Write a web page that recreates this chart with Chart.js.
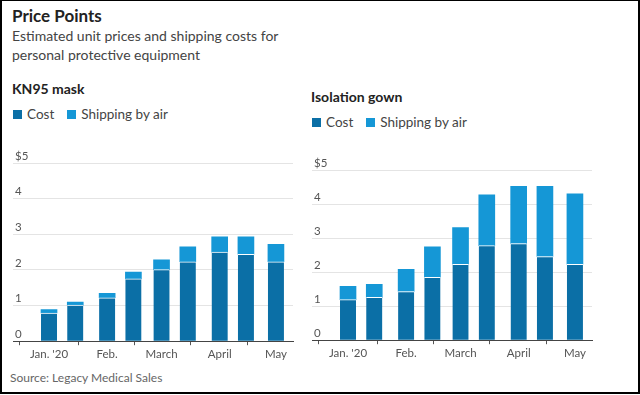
<!DOCTYPE html>
<html>
<head>
<meta charset="utf-8">
<script src="https://cdn.jsdelivr.net/npm/chart.js@4.4.1/dist/chart.umd.min.js"></script>
<style>
  html, body { margin: 0; padding: 0; background: #fff; }
  #frame { position: relative; width: 640px; height: 394px; box-sizing: border-box;
           border: 2px solid #000; border-top-width: 1px; overflow: hidden; font-family: Lato, "Noto Sans", sans-serif; }
  .abs { position: absolute; white-space: nowrap; }
  #title { left: 10px; top: 4px; font-size: 17px; font-weight: bold; color: #222; }
  #sub { left: 10px; top: 25px; font-size: 14px; line-height: 19px; color: #444; }
  .ptitle { font-size: 14px; font-weight: bold; color: #222; }
  .legend { font-size: 13.5px; color: #444; display: flex; align-items: center; }
  .sw { display: inline-block; width: 9px; height: 9px; margin-right: 5px; }
  .li { display: flex; align-items: center; margin-right: 13px; }
  #source { left: 8px; top: 369px; font-size: 12px; color: #666; }
  .cwrap { position: absolute; width: 300px; height: 225px; }
</style>
</head>
<body>
<div id="frame">
  <div id="title" class="abs">Price Points</div>
  <div id="sub" class="abs">Estimated unit prices and shipping costs for<br>personal protective equipment</div>

  <div class="abs ptitle" style="left:10px; top:79px;">KN95 mask</div>
  <div class="abs legend" id="legL" style="left:11px; top:105px;"></div>

  <div class="abs ptitle" style="left:309px; top:87px;">Isolation gown</div>
  <div class="abs legend" id="legR" style="left:310px; top:113px;"></div>

  <div class="cwrap" style="left:-2px; top:139px;"><canvas id="c1"></canvas></div>
  <div class="cwrap" style="left:298px; top:139px;"><canvas id="c2"></canvas></div>

  <div id="source" class="abs">Source: Legacy Medical Sales</div>
</div>
<script>
// ---- data ----
const dates = ['2020-01-01','2020-01-15','2020-02-01','2020-02-15','2020-03-01','2020-03-15','2020-04-01','2020-04-15','2020-05-01'];
const seriesNames = ['Cost', 'Shipping by air'];
const kn95Cost     = [0.79, 1.01, 1.22, 1.75, 2.01, 2.23, 2.50, 2.44, 2.23];
const kn95Shipping = [0.10, 0.09, 0.12, 0.19, 0.27, 0.42, 0.43, 0.49, 0.49];
const gownCost     = [1.19, 1.26, 1.43, 1.85, 2.23, 2.78, 2.84, 2.46, 2.23];
const gownShipping = [0.39, 0.38, 0.65, 0.89, 1.08, 1.49, 1.68, 2.06, 2.07];
const monthTickDates = ['2020-01-01','2020-02-01','2020-03-01','2020-04-01','2020-05-01'];
const monthTickLabels = ["Jan. '20", 'Feb.', 'March', 'April', 'May'];
const yTickLabels = ['0', '1', '2', '3', '4', '$5'];

const COST_COLOR = '#0b6fa6';
const SHIP_COLOR = '#1597d6';

const dayOf = s => (Date.parse(s) - Date.parse('2020-01-01')) / 86400000;
const days = dates.map(dayOf);
const monthDays = monthTickDates.map(dayOf);

function legend(id) {
  const el = document.getElementById(id);
  [COST_COLOR, SHIP_COLOR].forEach((c, i) => {
    const d = document.createElement('span');
    d.className = 'li';
    d.innerHTML = '<span class="sw" style="background:' + c + '"></span>' + seriesNames[i];
    el.appendChild(d);
  });
}
legend('legL'); legend('legR');

function makeChart(id, cost, ship, pad) {
  const toPts = arr => arr.map((v, i) => ({ x: days[i], y: v }));
  return new Chart(document.getElementById(id), {
    type: 'bar',
    data: {
      datasets: [
        { label: seriesNames[0], data: toPts(cost), backgroundColor: COST_COLOR,
          borderColor: '#ffffff', borderWidth: { top: 1, left: 0, right: 0, bottom: 0 }, borderSkipped: false,
          barThickness: 16 },
        { label: seriesNames[1], data: toPts(ship), backgroundColor: SHIP_COLOR,
          borderWidth: 0, barThickness: 16 }
      ]
    },
    options: {
      responsive: true, maintainAspectRatio: false, animation: false,
      layout: { padding: pad },
      plugins: { legend: { display: false }, tooltip: { enabled: false } },
      scales: {
        x: {
          type: 'linear', stacked: true, min: -19.2, max: 130.1, offset: false,
          afterBuildTicks: s => { s.ticks = monthDays.map(v => ({ value: v })); },
          grid: { drawOnChartArea: false, drawTicks: true, tickLength: 4, tickColor: '#555' },
          border: { display: true, color: '#444', width: 1 },
          ticks: { autoSkip: false, maxRotation: 0, padding: 2, color: '#555',
                   font: { family: 'Lato, "Noto Sans", sans-serif', size: 11.5 },
                   callback: (v) => { const i = monthDays.indexOf(v); return i >= 0 ? monthTickLabels[i] : ''; } }
        },
        y: {
          stacked: true, min: 0, max: 5,
          afterBuildTicks: s => { s.ticks = yTickLabels.map((_, i) => ({ value: i })); },
          grid: { color: '#e4e4e4', drawTicks: false, lineWidth: 1 },
          border: { display: false },
          ticks: { mirror: true, padding: 2, labelOffset: -7, color: '#555',
                   font: { family: 'Lato, "Noto Sans", sans-serif', size: 11.5 },
                   callback: (v) => yTickLabels[v] }
        }
      }
    }
  });
}

makeChart('c1', kn95Cost, kn95Shipping, { left: 9, right: 7, top: 23, bottom: 2 });
makeChart('c2', gownCost, gownShipping, { left: 8, right: 8, top: 30, bottom: 3 });
</script>
</body>
</html>
